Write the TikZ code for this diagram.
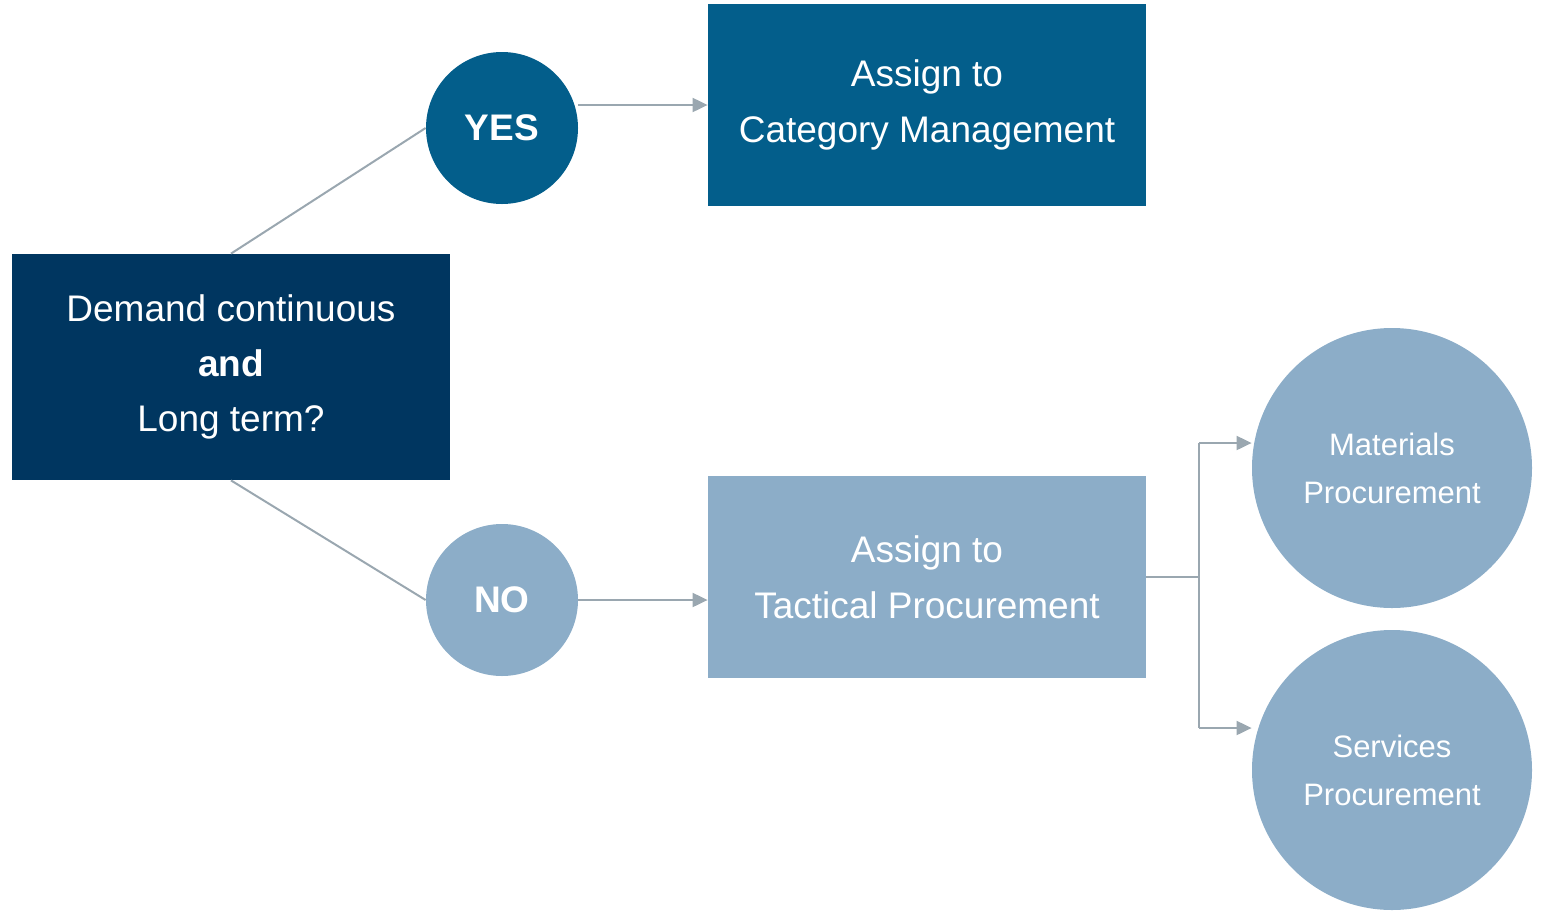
\documentclass[tikz,border=0pt]{standalone}
\usepackage{fontspec}
\setmainfont{Liberation Sans}
\usetikzlibrary{arrows.meta}
\definecolor{navy}{HTML}{003660}
\definecolor{petrol}{HTML}{035E8B}
\definecolor{steel}{HTML}{8CADC8}
\definecolor{linegray}{HTML}{9AA7B0}
\tikzset{
    question-box/.style = {fill=navy, text=white, rectangle, minimum width=219pt, minimum height=113pt, align=center, font=\fontsize{18.5}{27.5}\selectfont},
    answer-box/.style = {rectangle, text=white, minimum width=219pt, minimum height=101pt, align=center, font=\fontsize{18.5}{28}\selectfont},
    answer-circle/.style = {circle, text=white, minimum size=76pt, inner sep=0pt, font=\fontsize{18.5}{22}\selectfont\bfseries},
    unit-circle/.style = {circle, fill=steel, text=white, minimum size=140pt, inner sep=0pt, align=center, font=\fontsize{15.5}{24}\selectfont},
    link/.style = {draw=linegray, line width=1pt},
    link-arrow/.style = {link, -{Triangle[length=7.5pt,width=7pt]}},
}
\begin{document}
\begin{tikzpicture}[x=0.5pt, y=-0.5pt]
\useasboundingbox (0,0) rectangle (1542,911);
\node [question-box] (demand) at (231,367) {Demand continuous\\\textbf{and}\\Long term?};
\node [answer-circle, fill=petrol] (yes) at (502,128) {YES};
\node [answer-circle, fill=steel] (no) at (502,600) {NO};
\node [answer-box, fill=petrol] (category) at (927,105) {Assign to\\Category Management};
\node [answer-box, fill=steel] (tactical) at (927,577) {Assign to\\Tactical Procurement};
\node [unit-circle] (materials) at (1392,468) {Materials\\Procurement};
\node [unit-circle] (services) at (1392,770) {Services\\Procurement};
% connectors
\draw [link] (demand.north) -- (yes.west);
\draw [link] (demand.south) -- (no.west);
\draw [link-arrow] (yes.east |- category.west) -- (category.west);
\draw [link-arrow] (no.east) -- (no.east -| tactical.west);
\coordinate (fork) at (1199,577);
\coordinate (fork-top) at (1199,443);
\coordinate (fork-bottom) at (1199,728);
\draw [link] (tactical.east) -- (fork);
\draw [link] (fork-top) -- (fork-bottom);
\draw [link-arrow] (fork-top) -- (fork-top -| materials.west);
\draw [link-arrow] (fork-bottom) -- (fork-bottom -| services.west);
\end{tikzpicture}
\end{document}
